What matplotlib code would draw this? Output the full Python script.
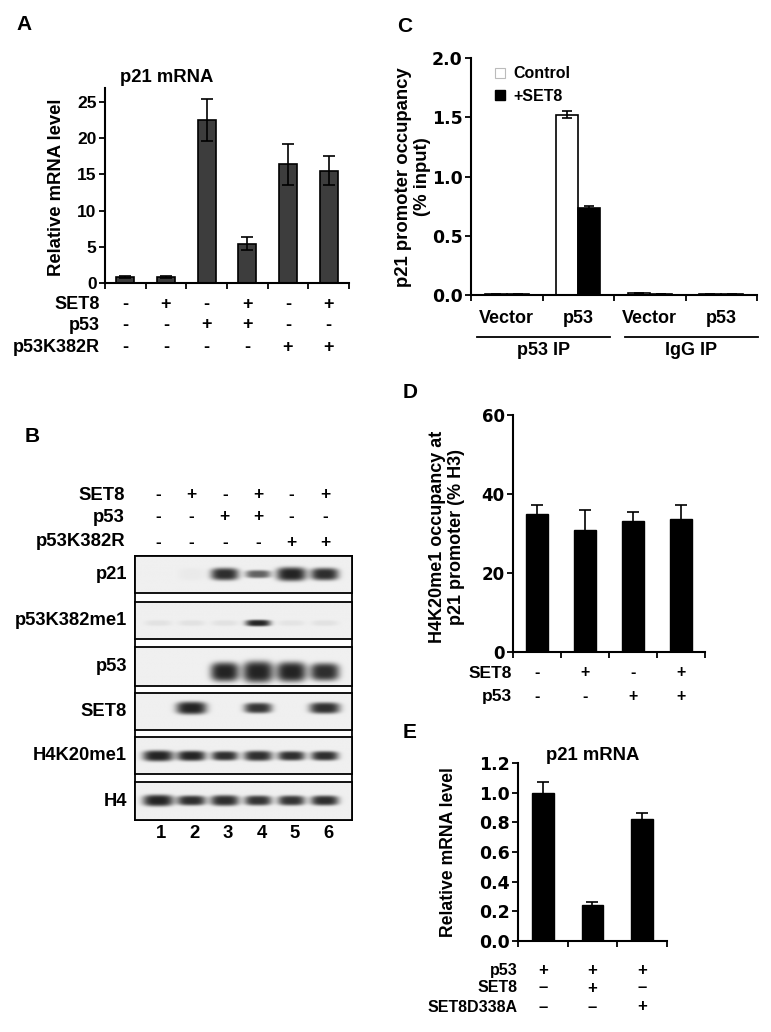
import matplotlib
matplotlib.use("Agg")
import matplotlib.pyplot as plt
import numpy as np
from matplotlib.patches import Patch

plt.rcParams["font.family"] = ["Liberation Sans", "DejaVu Sans"]
plt.rcParams["font.weight"] = "bold"
plt.rcParams["axes.labelweight"] = "bold"

W, H = 771, 1032

# ---- panel A: p21 mRNA, qPCR
a_means = [0.85, 0.8, 22.5, 5.4, 16.4, 15.5]
a_errs = [0.15, 0.1, 2.9, 0.9, 2.8, 2.0]
a_rows = ["SET8", "p53", "p53K382R"]
a_signs = [["-", "+", "-", "+", "-", "+"],
           ["-", "-", "+", "+", "-", "-"],
           ["-", "-", "-", "-", "+", "+"]]
a_yticks = [0, 5, 10, 15, 20, 25]

# ---- panel B: western blot (band darkness 0..1 per lane)
b_rows = ["p21", "p53K382me1", "p53", "SET8", "H4K20me1", "H4"]
b_header = ["SET8", "p53", "p53K382R"]
b_signs = [["-", "+", "-", "+", "-", "+"],
           ["-", "-", "+", "+", "-", "-"],
           ["-", "-", "-", "-", "+", "+"]]
b_lanes = ["1", "2", "3", "4", "5", "6"]
b_signal = [[0.0, 0.03, 0.95, 0.7, 1.0, 0.95],
            [0.07, 0.07, 0.07, 1.0, 0.06, 0.07],
            [0.0, 0.02, 1.0, 1.0, 1.0, 0.95],
            [0.0, 1.0, 0.0, 0.92, 0.0, 0.95],
            [1.0, 1.0, 0.95, 0.95, 0.95, 0.95],
            [1.0, 0.95, 0.95, 0.92, 0.92, 0.95]]
b_halfw = [[0.4, 0.4, 0.42, 0.38, 0.45, 0.42],
           [0.4, 0.4, 0.4, 0.38, 0.4, 0.4],
           [0.0, 0.0, 0.43, 0.46, 0.45, 0.44],
           [0.0, 0.46, 0.0, 0.42, 0.0, 0.46],
           [0.46, 0.43, 0.4, 0.43, 0.41, 0.41],
           [0.46, 0.43, 0.43, 0.41, 0.41, 0.42]]
b_halfh = [[0.17, 0.17, 0.17, 0.11, 0.19, 0.17],
           [0.08, 0.08, 0.08, 0.09, 0.08, 0.08],
           [0.25, 0.25, 0.25, 0.28, 0.26, 0.23],
           [0.17, 0.17, 0.17, 0.14, 0.17, 0.15],
           [0.15, 0.14, 0.13, 0.14, 0.13, 0.13],
           [0.15, 0.13, 0.14, 0.13, 0.13, 0.13]]
b_center = [0.49, 0.57, 0.64, 0.42, 0.51, 0.5]     # band position, from top

# ---- panel C: ChIP, p21 promoter occupancy
c_groups = ["Vector", "p53", "Vector", "p53"]
c_ip = ["p53 IP", "IgG IP"]
c_ctrl = [0.005, 1.52, 0.015, 0.005]
c_ctrl_err = [0.002, 0.03, 0.003, 0.002]
c_set8 = [0.005, 0.73, 0.01, 0.005]
c_set8_err = [0.002, 0.02, 0.002, 0.002]
c_yticks = [0.0, 0.5, 1.0, 1.5, 2.0]

# ---- panel D: H4K20me1 occupancy
d_means = [35.0, 30.9, 33.2, 33.7]
d_errs = [2.2, 5.0, 2.2, 3.5]
d_rows = ["SET8", "p53"]
d_signs = [["-", "+", "-", "+"], ["-", "-", "+", "+"]]
d_yticks = [0, 20, 40, 60]

# ---- panel E: p21 mRNA with SET8 mutant
e_means = [1.0, 0.24, 0.82]
e_errs = [0.07, 0.02, 0.045]
e_rows = ["p53", "SET8", "SET8D338A"]
e_signs = [["+", "+", "+"], ["\u2013", "+", "\u2013"], ["\u2013", "\u2013", "+"]]
e_yticks = [0.0, 0.2, 0.4, 0.6, 0.8, 1.0, 1.2]

fig = plt.figure(figsize=(W / 100, H / 100), dpi=100)
WIDE = ["DejaVu Sans"]   # the wide bold digits of the GraphPad panels


def add_ax(x0, y0, x1, y1):
    return fig.add_axes([x0 / W, 1 - y1 / H, (x1 - x0) / W, (y1 - y0) / H])


def ftext(x, y, s, **kw):
    kw.setdefault("ha", "center")
    kw.setdefault("va", "center")
    kw.setdefault("fontweight", "bold")
    return fig.text(x / W, 1 - y / H, s, **kw)


def style_axis(ax, n, tick_fs=12, wide=False):
    for s in ("top", "right"):
        ax.spines[s].set_visible(False)
    for s in ("left", "bottom"):
        ax.spines[s].set_linewidth(1.5)
    ax.set_xlim(-0.5, n - 0.5)
    ax.set_xticks(np.arange(n + 1) - 0.5)
    ax.set_xticklabels([])
    ax.tick_params(axis="x", length=4, width=1.3)
    ax.tick_params(axis="y", length=4, width=1.3, pad=2, labelsize=tick_fs)
    if wide:
        for t in ax.get_yticklabels():
            t.set_fontfamily(WIDE)


def sign_rows(ax, labels, signs, ys, label_x, fs=12.5, sfs=None):
    # ys are figure pixel rows; x of symbols follows the bar positions
    sfs = sfs or fs
    for lab, row, y in zip(labels, signs, ys):
        ftext(label_x, y, lab, ha="right", fontsize=fs)
        yy = 1 - y / H
        for i, s in enumerate(row):
            xd = ax.transData.transform((i, 0))[0]
            fx = fig.transFigure.inverted().transform((xd, 0))[0]
            fig.text(fx, yy, s, ha="center", va="center", fontsize=sfs, fontweight="bold")


# ================= A =================
axA = add_ax(105, 87.5, 349, 283)
xa = np.arange(len(a_means))
axA.bar(xa, a_means, width=0.45, color="#3d3d3d", edgecolor="black", linewidth=1.2,
        yerr=a_errs, capsize=4, error_kw=dict(elinewidth=1.2, capthick=1.2, ecolor="black"))
axA.set_ylim(0, 27)
axA.set_yticks(a_yticks)
style_axis(axA, len(a_means), tick_fs=12.5)
ftext(24, 25, "A", fontsize=15)
ftext(167, 77, "p21 mRNA", fontsize=13.3)
ftext(57, 187, "Relative mRNA level", rotation=90, fontsize=13.3)
sign_rows(axA, a_rows, a_signs, [304, 325, 348], 100, fs=13)

# ================= C =================
axC = add_ax(471, 58, 757, 295)
xc = np.arange(len(c_groups))
ekw = dict(elinewidth=1.2, capthick=1.2, ecolor="black")
axC.bar(xc - 0.155, c_ctrl, width=0.31, color="white", edgecolor="black", linewidth=1.2,
        yerr=c_ctrl_err, capsize=3.5, error_kw=ekw)
axC.bar(xc + 0.155, c_set8, width=0.31, color="black", edgecolor="black", linewidth=1.2,
        yerr=c_set8_err, capsize=3.5, error_kw=ekw)
axC.set_ylim(0, 2.0)
axC.set_yticks(c_yticks)
axC.set_yticklabels([f"{v:.1f}" for v in c_yticks])
style_axis(axC, len(c_groups), tick_fs=12.5, wide=True)
axC.set_xticks(xc, minor=True)
axC.set_xticklabels(c_groups, minor=True, fontsize=13, fontweight="bold")
axC.tick_params(axis="x", which="minor", length=0, pad=11)
for (x0, x1), lab in zip([(-0.42, 1.44), (1.65, 3.51)], c_ip):
    axC.plot([x0, x1], [-0.177, -0.177], color="black", lw=1.3,
             transform=axC.get_xaxis_transform(), clip_on=False)
    axC.text((x0 + x1) / 2, -0.235, lab, ha="center", va="center", fontsize=13,
             fontweight="bold", transform=axC.get_xaxis_transform())
handles = [Patch(facecolor="white", edgecolor="#bbbbbb", linewidth=0.8, label="Control"),
           Patch(facecolor="black", edgecolor="black", label="+SET8")]
axC.legend(handles=handles, loc="upper left", bbox_to_anchor=(0.035, 1.025), frameon=False,
           handlelength=0.6, handleheight=0.6, handletextpad=0.55, labelspacing=0.45,
           prop=dict(size=11.5, weight="bold"))
ftext(405, 27, "C", fontsize=15)
ftext(413, 177, "p21 promoter occupancy\n(% input)", rotation=90, fontsize=13.3,
      linespacing=1.1)

# ================= D =================
axD = add_ax(513, 415, 705, 652)
xd = np.arange(len(d_means))
axD.bar(xd, d_means, width=0.46, color="black", edgecolor="black",
        yerr=d_errs, capsize=4, error_kw=ekw)
axD.set_ylim(0, 60)
axD.set_yticks(d_yticks)
style_axis(axD, len(d_means), tick_fs=12, wide=True)
ftext(410, 393, "D", fontsize=15)
ftext(447, 537, "H4K20me1 occupancy at\np21 promoter (% H3)", rotation=90, fontsize=13,
      linespacing=1.1)
sign_rows(axD, d_rows, d_signs, [673, 697], 512, fs=12.5, sfs=11.5)

# ================= E =================
axE = add_ax(518, 763, 667, 941)
xe = np.arange(len(e_means))
axE.bar(xe, e_means, width=0.44, color="black", edgecolor="black",
        yerr=e_errs, capsize=4, error_kw=ekw)
axE.set_ylim(0, 1.2)
axE.set_yticks(e_yticks)
axE.set_yticklabels([f"{v:.1f}" for v in e_yticks])
style_axis(axE, len(e_means), tick_fs=12.5, wide=True)
ftext(410, 732, "E", fontsize=15)
ftext(593, 755, "p21 mRNA", fontsize=13.3)
ftext(448, 852, "Relative mRNA level", rotation=90, fontsize=12.7)
sign_rows(axE, e_rows, e_signs, [970, 988, 1007], 518, fs=11.5, sfs=12)

# ================= B: western blot =================
ftext(32, 437, "B", fontsize=15)
blot_x0, blot_x1 = 135, 352
strips = [(556, 593), (602, 639), (647, 686), (693, 730), (737, 774), (782, 820)]
xlo, xhi = -0.69, 5.81

frame = add_ax(blot_x0, strips[0][0], blot_x1, strips[-1][1])
frame.set_xticks([]); frame.set_yticks([])
for s in frame.spines.values():
    s.set_linewidth(1.3)

gx = np.linspace(xlo, xhi, 420)
gy = np.linspace(0, 1, 80)
XX, YY = np.meshgrid(gx, gy)
strip_axes = []
for r, (y0, y1) in enumerate(strips):
    ax = add_ax(blot_x0, y0, blot_x1, y1)
    dark = np.zeros_like(XX)
    for i in range(6):
        s, w, h = b_signal[r][i], b_halfw[r][i], b_halfh[r][i]
        if s <= 0 or w <= 0:
            continue
        rr = np.abs((XX - i) / w) ** 3 + np.abs((YY - b_center[r]) / h) ** 3
        dark += s * np.exp(-rr ** 1.3)
    img = 0.94 - np.clip(dark, 0, 1) * 0.8
    ax.imshow(img, cmap="gray", vmin=0, vmax=1, extent=(xlo, xhi, 1, 0),
              aspect="auto", interpolation="bilinear")
    ax.set_xlim(xlo, xhi); ax.set_ylim(1, 0)
    ax.set_xticks([]); ax.set_yticks([])
    for s in ax.spines.values():
        s.set_linewidth(1.3)
    ftext(127, (y0 + y1) / 2, b_rows[r], ha="right", fontsize=13.2)
    strip_axes.append(ax)

sign_rows(strip_axes[0], b_header, b_signs, [495, 517, 542], 125, fs=13.3, sfs=12.5)
# lane numbers
for i, lab in enumerate(b_lanes):
    strip_axes[-1].text(i + 0.1, 1.35, lab, ha="center", va="center", fontsize=13.3,
                        fontweight="bold", transform=strip_axes[-1].transData)

fig.savefig("out.png", dpi=100)
